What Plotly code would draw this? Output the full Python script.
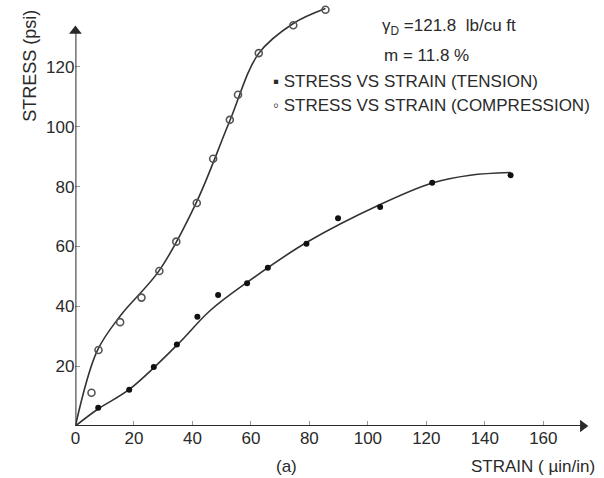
import plotly.graph_objects as go

# Measured points
tension_strain = [7.8, 18.4, 26.8, 34.7, 41.7, 48.8, 58.7, 65.8, 79.0, 89.8, 104.2, 122.0, 148.8]
tension_stress = [6.1, 12.1, 19.7, 27.2, 36.5, 43.8, 47.7, 52.9, 60.9, 69.4, 73.2, 81.3, 83.8]

compression_strain = [5.5, 7.9, 15.3, 22.6, 28.7, 34.5, 41.5, 47.1, 52.8, 55.6, 62.7, 74.5, 85.5]
compression_stress = [11.1, 25.4, 34.7, 42.9, 51.8, 61.6, 74.5, 89.3, 102.3, 110.7, 124.6, 133.9, 139.1]

# Fitted curves
tension_fit_x = [0, 7.6, 18.4, 34.7, 46, 58.7, 79, 104.2, 122, 135, 148.8]
tension_fit_y = [0, 5.6, 12.2, 27, 38.5, 48, 61.3, 74, 81.2, 83.8, 84.7]

compression_fit_x = [0, 7.4, 15.5, 28.7, 41.5, 52.8, 62.7, 74.5, 85.5]
compression_fit_y = [0, 25, 37, 52, 75, 102, 124.5, 134.5, 139.5]

x_ticks = [0, 20, 40, 60, 80, 100, 120, 140, 160]
y_ticks = [20, 40, 60, 80, 100, 120]
x_axis_end = 175.5
y_axis_end = 134

FONT = "Liberation Sans"
INK = "#2a2a2a"
W, H = 604, 478

fig = go.Figure()
fig.add_trace(go.Scatter(x=compression_fit_x, y=compression_fit_y, mode="lines",
                         line=dict(color="#333", width=1.6, shape="spline", smoothing=1.0),
                         cliponaxis=False, hoverinfo="skip"))
fig.add_trace(go.Scatter(x=tension_fit_x, y=tension_fit_y, mode="lines",
                         line=dict(color="#333", width=1.6, shape="spline", smoothing=1.0),
                         cliponaxis=False, hoverinfo="skip"))
fig.add_trace(go.Scatter(x=compression_strain, y=compression_stress, mode="markers",
                         marker=dict(symbol="circle-open", size=7, color="#555", line=dict(width=1.6)),
                         cliponaxis=False))
fig.add_trace(go.Scatter(x=tension_strain, y=tension_stress, mode="markers",
                         marker=dict(symbol="circle", size=6, color="#111"),
                         cliponaxis=False))

# axis lines
fig.add_shape(type="line", x0=0, y0=0, x1=x_axis_end - 2, y1=0, xref="x", yref="y",
              line=dict(color=INK, width=2))
fig.add_shape(type="line", x0=0, y0=0, x1=0, y1=y_axis_end - 2, xref="x", yref="y",
              line=dict(color=INK, width=2))
# arrow heads
fig.add_trace(go.Scatter(x=[x_axis_end - 2], y=[0], mode="markers",
                         marker=dict(symbol="triangle-right", size=11, color=INK, line=dict(width=0)),
                         cliponaxis=False, hoverinfo="skip"))
fig.add_trace(go.Scatter(x=[0], y=[y_axis_end - 2], mode="markers",
                         marker=dict(symbol="triangle-up", size=11, color=INK, line=dict(width=0)),
                         cliponaxis=False, hoverinfo="skip"))

fig.add_annotation(x=25 / W, y=1 - 66 / H, xref="paper", yref="paper", text="STRESS (psi)",
                   showarrow=False, textangle=-90, xanchor="center", yanchor="middle",
                   font=dict(family=FONT, size=18, color=INK))

annots = [
    dict(x=378, y=27, text="γ<sub>D</sub> =121.8  lb/cu ft", xanchor="left"),
    dict(x=380, y=56, text="m = 11.8 %", xanchor="left"),
    dict(x=268, y=82, text="▪ STRESS VS STRAIN (TENSION)", xanchor="left"),
    dict(x=268, y=105, text="◦ STRESS VS STRAIN (COMPRESSION)", xanchor="left"),
    dict(x=284, y=466, text="(a)", xanchor="center"),
    dict(x=597, y=466, text="STRAIN ( µin/in)", xanchor="right"),
]
for a in annots:
    fig.add_annotation(x=a["x"] / W, y=1 - a["y"] / H, xref="paper", yref="paper",
                       xanchor=a["xanchor"], yanchor="middle", text=a["text"], showarrow=False,
                       font=dict(family=FONT, size=17, color=INK))

fig.update_layout(
    width=W, height=H,
    margin=dict(l=0, r=0, t=0, b=0),
    paper_bgcolor="white", plot_bgcolor="white",
    showlegend=False,
    xaxis=dict(domain=[71 / W, 590 / W], range=[0, 176], tickvals=x_ticks,
               ticks="inside", ticklen=5, tickwidth=1, tickcolor="#999",
               showgrid=False, zeroline=False, showline=False,
               tickfont=dict(family=FONT, size=17, color=INK)),
    yaxis=dict(domain=[52 / H, 1 - 7 / H], range=[0, 140], tickvals=y_ticks,
               ticks="inside", ticklen=5, tickwidth=1, tickcolor="#999",
               showgrid=False, zeroline=False, showline=False,
               tickfont=dict(family=FONT, size=17, color=INK)),
)
fig.write_html("out.html")
